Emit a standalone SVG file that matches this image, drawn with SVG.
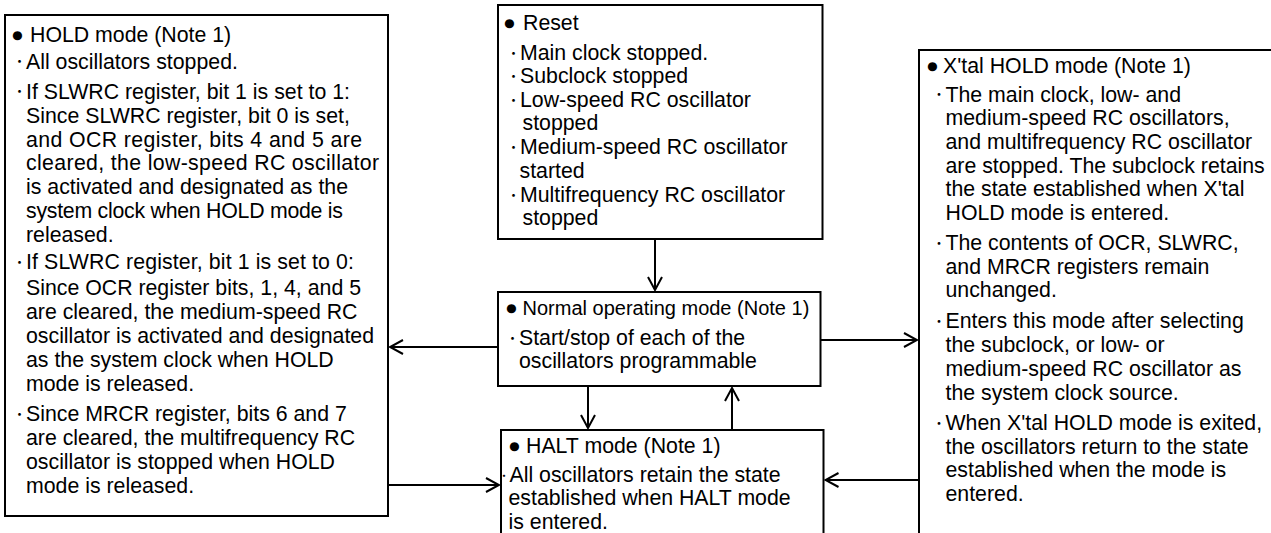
<svg xmlns="http://www.w3.org/2000/svg" width="1271" height="533" viewBox="0 0 1271 533">
<style>
  .box { fill: #fff; stroke: #000; stroke-width: 2; }
  text { font-family: "Liberation Sans", "Noto Sans CJK JP", sans-serif; font-size: 21.3px; fill: #000; }
  text.dot { font-family: "Noto Sans CJK JP", "Liberation Sans", sans-serif; font-size: 13px; }
  .conn { fill: none; stroke: #000; stroke-width: 2; }
</style>
<defs>
  <marker id="ah" viewBox="-1 -1 16 16" refX="13" refY="7" markerWidth="16" markerHeight="16" markerUnits="userSpaceOnUse" orient="auto">
    <path d="M0,0 L13,7 L0,14" fill="none" stroke="#000" stroke-width="2"/>
  </marker>
</defs>
<rect width="1271" height="533" fill="#fff"/>

<g id="hold">
  <rect class="box" x="5" y="15" width="383" height="501"/>
  <text y="42"><tspan x="11">●</tspan><tspan x="30">HOLD mode (Note 1)</tspan></text>
  <text class="dot" x="13" y="66">・</text><text x="26" y="68.5">All oscillators stopped.</text>
  <text class="dot" x="13" y="96">・</text><text x="26" y="98.5">If SLWRC register, bit 1 is set to 1:</text>
  <text x="26" y="122.5">Since SLWRC register, bit 0 is set,</text>
  <text x="26" y="146.5" textLength="336">and OCR register, bits 4 and 5 are</text>
  <text x="26" y="170" textLength="353">cleared, the low-speed RC oscillator</text>
  <text x="26" y="194">is activated and designated as the</text>
  <text x="26" y="217.5" textLength="317">system clock when HOLD mode is</text>
  <text x="26" y="241.5">released.</text>
  <text class="dot" x="13" y="266.5">・</text><text x="26" y="269" textLength="328">If SLWRC register, bit 1 is set to 0:</text>
  <text x="26" y="295">Since OCR register bits, 1, 4, and 5</text>
  <text x="26" y="319">are cleared, the medium-speed RC</text>
  <text x="26" y="343">oscillator is activated and designated</text>
  <text x="26" y="367">as the system clock when HOLD</text>
  <text x="26" y="391">mode is released.</text>
  <text class="dot" x="13" y="418.5">・</text><text x="26" y="421">Since MRCR register, bits 6 and 7</text>
  <text x="26" y="445">are cleared, the multifrequency RC</text>
  <text x="26" y="468.5">oscillator is stopped when HOLD</text>
  <text x="26" y="492.5">mode is released.</text>
</g>

<g id="reset">
  <rect class="box" x="498" y="5" width="324.5" height="234"/>
  <text y="30"><tspan x="503">●</tspan><tspan x="523">Reset</tspan></text>
  <text class="dot" x="507" y="57.5">・</text><text x="520" y="60">Main clock stopped.</text>
  <text class="dot" x="507" y="80.5">・</text><text x="520" y="83">Subclock stopped</text>
  <text class="dot" x="507" y="104.5">・</text><text x="520" y="107">Low-speed RC oscillator</text>
  <text x="522.5" y="130">stopped</text>
  <text class="dot" x="507" y="151.5">・</text><text x="520" y="154">Medium-speed RC oscillator</text>
  <text x="519.5" y="178">started</text>
  <text class="dot" x="507" y="199.5">・</text><text x="520" y="202">Multifrequency RC oscillator</text>
  <text x="522.5" y="225">stopped</text>
</g>

<g id="normal">
  <rect class="box" x="498" y="292" width="322.5" height="94"/>
  <text y="315"><tspan x="505">●</tspan><tspan x="522.5" style="font-size:20px">Normal operating mode (Note 1)</tspan></text>
  <text class="dot" x="506" y="342.5">・</text><text x="519" y="345">Start/stop of each of the</text>
  <text x="519" y="367.5">oscillators programmable</text>
</g>

<g id="halt">
  <rect class="box" x="501" y="430" width="322.5" height="120"/>
  <text y="453"><tspan x="508">●</tspan><tspan x="526">HALT mode (Note 1)</tspan></text>
  <text class="dot" x="498.5" y="479.5" style="font-size:11px">・</text><text x="509.5" y="482">All oscillators retain the state</text>
  <text x="508.5" y="505">established when HALT mode</text>
  <text x="508.5" y="528.5">is entered.</text>
</g>

<g id="xtal-hold">
  <rect class="box" x="919" y="50" width="400" height="520"/>
  <text y="72.5"><tspan x="926">●</tspan><tspan x="943">X'tal HOLD mode (Note 1)</tspan></text>
  <text class="dot" x="932.5" y="99">・</text><text x="945.5" y="101.5">The main clock, low- and</text>
  <text x="945.5" y="125">medium-speed RC oscillators,</text>
  <text x="945.5" y="148.5">and multifrequency RC oscillator</text>
  <text x="945.5" y="172.5">are stopped. The subclock retains</text>
  <text x="945.5" y="196">the state established when X'tal</text>
  <text x="945.5" y="220">HOLD mode is entered.</text>
  <text class="dot" x="932.5" y="247.5">・</text><text x="945.5" y="250">The contents of OCR, SLWRC,</text>
  <text x="945.5" y="273.5">and MRCR registers remain</text>
  <text x="945.5" y="297">unchanged.</text>
  <text class="dot" x="932.5" y="325.5">・</text><text x="945.5" y="328">Enters this mode after selecting</text>
  <text x="945.5" y="352">the subclock, or low- or</text>
  <text x="945.5" y="376">medium-speed RC oscillator as</text>
  <text x="945.5" y="400">the system clock source.</text>
  <text class="dot" x="932.5" y="427.5">・</text><text x="945.5" y="430">When X'tal HOLD mode is exited,</text>
  <text x="945.5" y="453.5">the oscillators return to the state</text>
  <text x="945.5" y="477">established when the mode is</text>
  <text x="945.5" y="500.5">entered.</text>
</g>

<g id="connectors">
  <line class="conn" x1="655" y1="239" x2="655" y2="290" marker-end="url(#ah)"/>
  <line class="conn" x1="588" y1="386" x2="588" y2="428" marker-end="url(#ah)"/>
  <line class="conn" x1="732" y1="430" x2="732" y2="388" marker-end="url(#ah)"/>
  <line class="conn" x1="498" y1="347" x2="390" y2="347" marker-end="url(#ah)"/>
  <line class="conn" x1="388" y1="485" x2="499" y2="485" marker-end="url(#ah)"/>
  <line class="conn" x1="820.5" y1="340" x2="917" y2="340" marker-end="url(#ah)"/>
  <line class="conn" x1="919" y1="480" x2="825.5" y2="480" marker-end="url(#ah)"/>
</g>
</svg>
